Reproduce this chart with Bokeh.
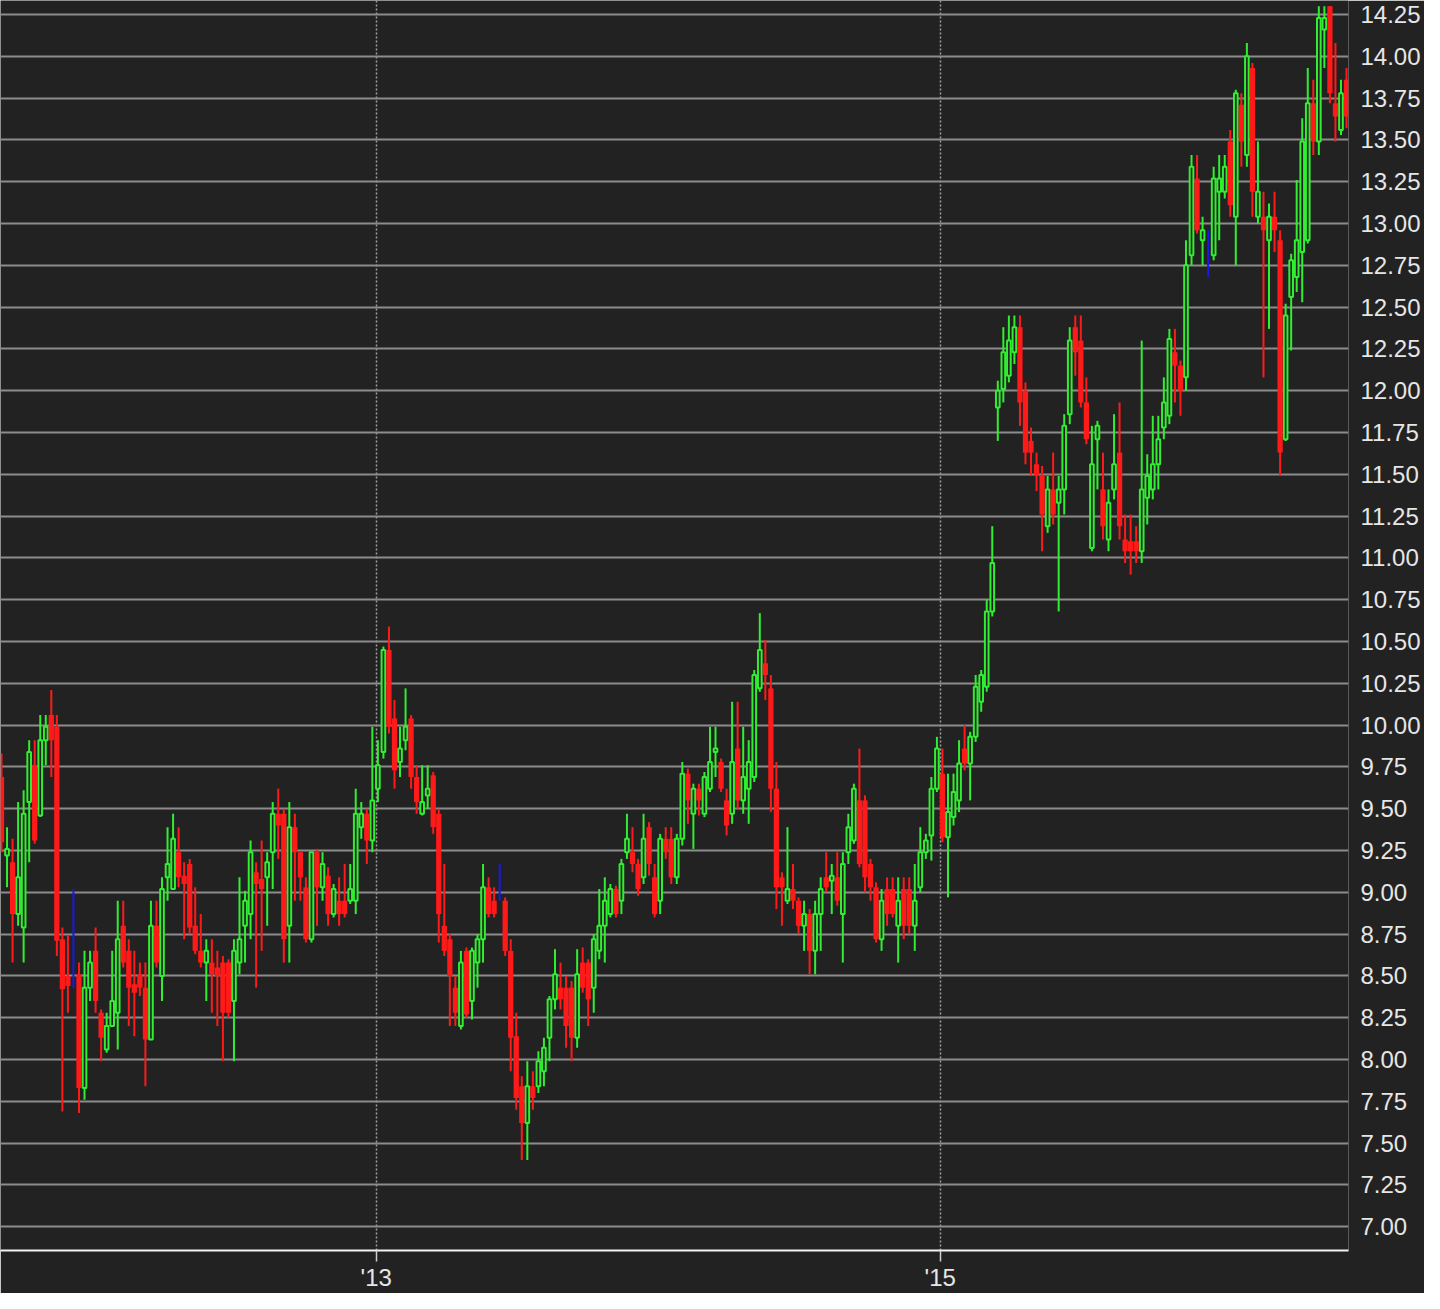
import numpy as np
from bokeh.plotting import figure
from bokeh.models import ColumnDataSource, Range1d, FixedTicker, PrintfTickFormatter, CustomJSTickFormatter
from bokeh.embed import file_html
from bokeh.resources import INLINE

# ---- data (weekly candles) ----
opens = [
    9.69, 9.22, 9.18, 8.87, 8.79, 9.54, 9.76, 9.46, 9.91, 10.06,
    9.99, 8.72, 8.50, 8.50, 8.51, 7.83, 8.43, 8.65, 8.28, 8.06,
    8.20, 8.28, 8.80, 8.65, 8.45, 8.51, 8.43, 8.12, 8.80, 8.50,
    9.09, 9.02, 9.24, 9.10, 9.17, 8.80, 8.65, 8.58, 8.58, 8.55,
    8.58, 8.58, 8.35, 8.58, 8.80, 8.87, 9.12, 9.08, 9.09, 9.24,
    9.47, 9.47, 8.80, 9.39, 9.24, 9.03, 8.72, 9.24, 9.03, 9.10,
    8.87, 8.95, 8.95, 8.95, 8.95, 9.39, 9.47, 9.31, 9.62, 9.84,
    10.45, 10.04, 9.78, 9.91, 10.04, 9.69, 9.47, 9.58, 9.70, 9.47,
    8.80, 8.72, 8.43, 8.20, 8.65, 8.35, 8.58, 8.72, 9.03, 8.95,
    8.95, 8.95, 8.65, 8.14, 7.84, 7.62, 7.84, 7.84, 7.93, 8.13,
    8.36, 8.43, 8.43, 8.43, 8.13, 8.58, 8.58, 8.43, 8.65, 8.80,
    8.87, 9.02, 8.95, 9.24, 9.24, 9.17, 9.09, 9.39, 9.09, 8.95,
    9.32, 9.32, 9.09, 9.32, 9.71, 9.47, 9.62, 9.47, 9.62, 9.84,
    9.78, 9.55, 9.47, 9.86, 9.55, 9.62, 9.69, 10.22, 10.37, 10.22,
    9.62, 9.09, 8.95, 9.02, 8.95, 8.80, 8.87, 8.65, 8.87, 9.09,
    9.07, 9.09, 8.87, 9.24, 9.31, 9.55, 9.55, 9.17, 9.03, 8.72,
    9.02, 9.02, 8.80, 9.02, 9.02, 8.80, 9.03, 9.24, 9.34, 9.62,
    9.71, 9.33, 9.45, 9.55, 9.86, 9.77, 9.93, 10.14, 10.23, 10.68,
    11.90, 12.01, 12.09, 12.23, 12.38, 12.00, 11.70, 11.56, 11.49, 11.19,
    11.41, 11.33, 11.41, 11.86, 12.38, 12.30, 11.93, 11.06, 11.71, 11.41,
    11.11, 11.41, 11.63, 11.11, 11.10, 11.10, 11.04, 11.36, 11.41, 11.56,
    11.78, 11.85, 12.23, 12.15, 12.08, 12.81, 13.27, 12.90, 12.96, 12.81,
    13.19, 13.19, 13.49, 13.04, 13.71, 13.41, 13.93, 13.04, 13.04, 12.90,
    13.04, 12.90, 11.71, 12.56, 12.68, 12.83, 12.90, 13.72, 13.49, 14.16,
    14.30, 13.72, 13.56, 13.86,
]
highs = [
    9.83, 9.39, 9.32, 9.54, 9.61, 9.91, 9.91, 10.06, 10.06, 10.21,
    10.06, 8.79, 8.74, 9.02, 8.58, 8.65, 8.65, 8.79, 8.30, 8.28,
    8.65, 8.95, 8.95, 8.72, 8.65, 8.58, 8.58, 8.95, 8.95, 9.09,
    9.39, 9.47, 9.39, 9.18, 9.20, 9.03, 8.87, 8.72, 8.72, 8.65,
    8.62, 8.60, 8.72, 9.09, 9.01, 9.31, 9.18, 9.31, 9.24, 9.54,
    9.62, 9.50, 9.54, 9.47, 9.24, 9.09, 9.24, 9.26, 9.24, 9.15,
    9.05, 9.09, 9.17, 9.17, 9.62, 9.54, 9.50, 9.99, 9.91, 10.47,
    10.59, 10.15, 9.99, 10.22, 10.06, 9.76, 9.76, 9.76, 9.72, 9.50,
    9.17, 8.75, 8.50, 8.65, 8.67, 8.67, 8.75, 9.17, 9.09, 9.03,
    9.17, 8.97, 8.72, 8.28, 7.90, 7.99, 7.93, 8.05, 8.13, 8.38,
    8.66, 8.58, 8.50, 8.47, 8.66, 8.67, 8.60, 8.75, 9.02, 9.09,
    9.05, 9.04, 9.20, 9.47, 9.39, 9.20, 9.47, 9.42, 9.17, 9.35,
    9.39, 9.39, 9.35, 9.78, 9.74, 9.65, 9.65, 9.72, 9.99, 9.99,
    9.80, 9.62, 10.14, 10.14, 9.99, 9.91, 10.33, 10.67, 10.51, 10.30,
    9.78, 9.12, 9.39, 9.17, 8.97, 8.95, 8.90, 8.95, 9.09, 9.24,
    9.17, 9.24, 9.24, 9.47, 9.65, 9.86, 9.58, 9.20, 9.06, 9.02,
    9.09, 9.09, 9.09, 9.09, 9.09, 9.17, 9.39, 9.35, 9.69, 9.93,
    9.86, 9.71, 9.71, 9.91, 10.00, 9.96, 10.30, 10.33, 10.75, 11.19,
    12.06, 12.38, 12.45, 12.45, 12.45, 12.05, 11.78, 11.63, 11.55, 11.49,
    11.63, 11.49, 11.86, 12.38, 12.45, 12.45, 12.08, 11.79, 11.82, 11.63,
    11.41, 11.86, 11.93, 11.26, 11.26, 11.19, 12.30, 11.62, 11.85, 11.85,
    12.08, 12.37, 12.37, 12.18, 12.90, 13.41, 13.41, 13.04, 12.96, 13.34,
    13.41, 13.41, 13.56, 13.80, 13.78, 14.08, 13.96, 13.49, 13.19, 13.12,
    13.19, 12.96, 12.52, 12.82, 13.26, 13.63, 13.93, 13.86, 14.30, 14.30,
    14.30, 14.08, 13.86, 13.93,
]
lows = [
    9.24, 9.03, 8.58, 8.80, 8.58, 9.18, 9.29, 9.45, 9.76, 9.69,
    8.62, 7.69, 8.28, 8.43, 7.68, 7.76, 8.35, 8.28, 7.99, 8.04,
    8.20, 8.06, 8.55, 8.20, 8.14, 8.38, 7.84, 8.12, 8.55, 8.35,
    8.95, 9.02, 9.03, 8.72, 8.75, 8.63, 8.55, 8.35, 8.28, 8.20,
    7.99, 8.25, 7.99, 8.51, 8.58, 8.72, 8.43, 8.65, 8.80, 9.02,
    9.20, 8.58, 8.58, 8.95, 8.95, 8.70, 8.70, 8.80, 8.95, 8.80,
    8.85, 8.80, 8.85, 8.93, 8.87, 9.32, 9.17, 9.24, 9.54, 9.80,
    9.95, 9.62, 9.69, 9.85, 9.62, 9.47, 9.46, 9.50, 9.35, 8.70,
    8.62, 8.20, 8.20, 8.18, 8.25, 8.24, 8.43, 8.58, 8.85, 8.85,
    8.95, 8.62, 7.93, 7.70, 7.40, 7.40, 7.70, 7.80, 7.84, 7.99,
    8.30, 8.30, 8.07, 7.99, 8.07, 8.40, 8.20, 8.28, 8.60, 8.58,
    8.85, 8.85, 8.87, 9.20, 9.12, 8.98, 9.05, 9.10, 8.85, 8.87,
    9.20, 9.05, 9.05, 9.28, 9.41, 9.26, 9.46, 9.45, 9.60, 9.69,
    9.60, 9.34, 9.41, 9.50, 9.47, 9.41, 9.66, 10.20, 10.15, 9.48,
    8.90, 8.80, 8.93, 8.90, 8.75, 8.65, 8.51, 8.51, 8.65, 9.00,
    8.87, 8.92, 8.58, 9.17, 9.29, 9.15, 9.00, 8.95, 8.70, 8.65,
    8.80, 8.85, 8.58, 8.72, 8.75, 8.65, 9.00, 9.20, 9.19, 9.60,
    9.30, 8.97, 9.40, 9.48, 9.73, 9.55, 9.90, 10.08, 10.20, 10.65,
    11.70, 11.93, 12.05, 12.16, 11.79, 11.56, 11.49, 11.40, 11.04, 11.15,
    11.20, 10.68, 11.26, 11.80, 12.09, 11.90, 11.68, 11.04, 11.41, 11.11,
    11.04, 11.35, 11.11, 10.97, 10.90, 10.97, 10.97, 11.20, 11.35, 11.41,
    11.71, 11.80, 11.93, 11.85, 12.00, 12.75, 12.94, 12.75, 12.68, 12.78,
    12.90, 13.15, 13.04, 12.75, 13.34, 13.34, 13.04, 13.00, 12.08, 12.37,
    12.83, 11.49, 11.70, 12.24, 12.59, 12.53, 12.88, 13.41, 13.41, 13.93,
    13.72, 13.49, 13.53, 13.57,
]
closes = [
    9.30, 9.26, 8.87, 9.09, 9.47, 9.84, 9.31, 9.91, 9.99, 9.91,
    8.71, 8.42, 8.44, 8.50, 7.83, 8.43, 8.58, 8.35, 8.13, 8.20,
    8.35, 8.72, 8.58, 8.43, 8.40, 8.43, 8.12, 8.80, 8.58, 9.02,
    9.17, 9.32, 9.09, 9.05, 8.79, 8.65, 8.58, 8.65, 8.51, 8.50,
    8.28, 8.28, 8.65, 8.72, 8.95, 9.24, 9.05, 9.02, 9.18, 9.47,
    9.40, 8.72, 9.39, 9.24, 9.09, 8.72, 9.24, 9.03, 9.17, 8.87,
    9.02, 8.87, 8.87, 9.02, 9.47, 9.47, 9.31, 9.55, 9.76, 10.45,
    9.99, 9.73, 9.86, 9.99, 9.69, 9.54, 9.54, 9.62, 9.39, 8.87,
    8.65, 8.50, 8.28, 8.58, 8.27, 8.65, 8.72, 9.03, 8.87, 8.87,
    8.95, 8.65, 8.13, 7.77, 7.62, 7.84, 7.77, 7.99, 8.07, 8.36,
    8.51, 8.36, 8.20, 8.13, 8.51, 8.43, 8.36, 8.72, 8.80, 8.95,
    9.02, 8.87, 9.17, 9.32, 9.17, 9.02, 9.32, 9.17, 8.87, 9.32,
    9.24, 9.09, 9.32, 9.71, 9.55, 9.62, 9.55, 9.69, 9.78, 9.86,
    9.62, 9.40, 9.78, 9.55, 9.69, 9.78, 10.30, 10.45, 10.30, 9.62,
    9.03, 9.03, 9.02, 8.95, 8.80, 8.87, 8.65, 8.87, 9.02, 9.03,
    9.10, 8.95, 9.17, 9.39, 9.62, 9.17, 9.09, 9.03, 8.72, 8.95,
    8.87, 8.87, 8.95, 8.80, 8.80, 8.95, 9.24, 9.31, 9.62, 9.86,
    9.33, 9.48, 9.60, 9.77, 9.77, 9.93, 10.23, 10.30, 10.68, 10.97,
    12.00, 12.23, 12.30, 12.38, 11.93, 11.63, 11.63, 11.49, 11.26, 11.41,
    11.26, 11.41, 11.79, 12.30, 12.23, 11.93, 11.71, 11.56, 11.79, 11.19,
    11.33, 11.56, 11.19, 11.04, 11.04, 11.04, 11.41, 11.49, 11.56, 11.71,
    11.93, 12.31, 12.15, 12.00, 12.75, 13.34, 12.96, 12.96, 12.96, 13.27,
    13.27, 13.34, 13.11, 13.78, 13.49, 14.00, 13.19, 13.19, 12.96, 13.04,
    12.96, 11.63, 12.45, 12.78, 12.90, 13.49, 13.72, 13.49, 14.23, 14.23,
    13.78, 13.64, 13.78, 13.64,
]

y_ticks = [7.00, 7.25, 7.50, 7.75, 8.00, 8.25, 8.50, 8.75, 9.00, 9.25,
           9.50, 9.75, 10.00, 10.25, 10.50, 10.75, 11.00, 11.25, 11.50, 11.75,
           12.00, 12.25, 12.50, 12.75, 13.00, 13.25, 13.50, 13.75, 14.00, 14.25]
year_labels = ["'13", "'15"]
year_positions = [67.7, 169.6]   # candle index at the first week of each year

# ---- styling ----
BG = "#222222"
GREEN = "#30ee30"
RED = "#ff1a1a"
BLUE = "#1818e8"
FONT = "Liberation Sans"

o = np.array(opens)
h = np.array(highs)
l = np.array(lows)
c = np.array(closes)
idx = np.arange(len(o))

def src(mask):
    return ColumnDataSource(dict(
        x=idx[mask], high=h[mask], low=l[mask],
        top=np.maximum(o, c)[mask], bottom=np.minimum(o, c)[mask]))

up = src(c > o)
down = src(c < o)
flat = src(c == o)

p = figure(width=1424, height=1293, output_backend="svg", toolbar_location=None,
           x_range=Range1d(-0.18, 243.36), y_range=Range1d(6.858, 14.334),
           y_axis_location="right",
           min_border_left=0, min_border_top=0, min_border_right=76, min_border_bottom=43,
           background_fill_color=BG, border_fill_color=BG, outline_line_color=None)

# wicks
p.segment(x0="x", y0="low", x1="x", y1="high", source=up, line_color=GREEN, line_width=2)
p.segment(x0="x", y0="low", x1="x", y1="high", source=down, line_color=RED, line_width=2)
p.segment(x0="x", y0="low", x1="x", y1="high", source=flat, line_color=BLUE, line_width=2)
# bodies
p.vbar(x="x", width=0.66, top="top", bottom="bottom", source=up,
       fill_color=BG, line_color=GREEN, line_width=2)
p.vbar(x="x", width=0.95, top="top", bottom="bottom", source=down,
       fill_color=RED, line_color=None)

# y axis (right)
yt = FixedTicker(ticks=y_ticks)
p.yaxis.ticker = yt
p.yaxis.formatter = PrintfTickFormatter(format="%.2f")
p.yaxis.axis_line_color = None
p.yaxis.major_tick_line_color = None
p.yaxis.minor_tick_line_color = None
p.yaxis.major_tick_out = 0
p.yaxis.major_tick_in = 0
p.yaxis.major_label_standoff = 12
p.yaxis.major_label_text_font = FONT
p.yaxis.major_label_text_font_size = "24px"
p.yaxis.major_label_text_color = "#e6e6e6"

# x axis (bottom)
xt = FixedTicker(ticks=year_positions)
p.xaxis.ticker = xt
p.xaxis.formatter = CustomJSTickFormatter(args=dict(labels=year_labels), code="return labels[index];")
p.xaxis.axis_line_color = "#f2f2f2"
p.xaxis.axis_line_width = 2
p.xaxis.major_tick_line_color = "#cfcfcf"
p.xaxis.major_tick_line_width = 1.5
p.xaxis.major_tick_out = 11
p.xaxis.major_tick_in = 0
p.xaxis.minor_tick_line_color = None
p.xaxis.major_label_standoff = 2
p.xaxis.major_label_text_font = FONT
p.xaxis.major_label_text_font_size = "24px"
p.xaxis.major_label_text_color = "#e6e6e6"

# grids
p.ygrid.ticker = yt
p.ygrid.grid_line_color = "#8c8c8c"
p.ygrid.grid_line_width = 2
p.xgrid.ticker = xt
p.xgrid.grid_line_color = "#a0a0a0"
p.xgrid.grid_line_width = 1.5
p.xgrid.grid_line_dash = "2 2"

open("out.html", "w").write(file_html(p, INLINE))
